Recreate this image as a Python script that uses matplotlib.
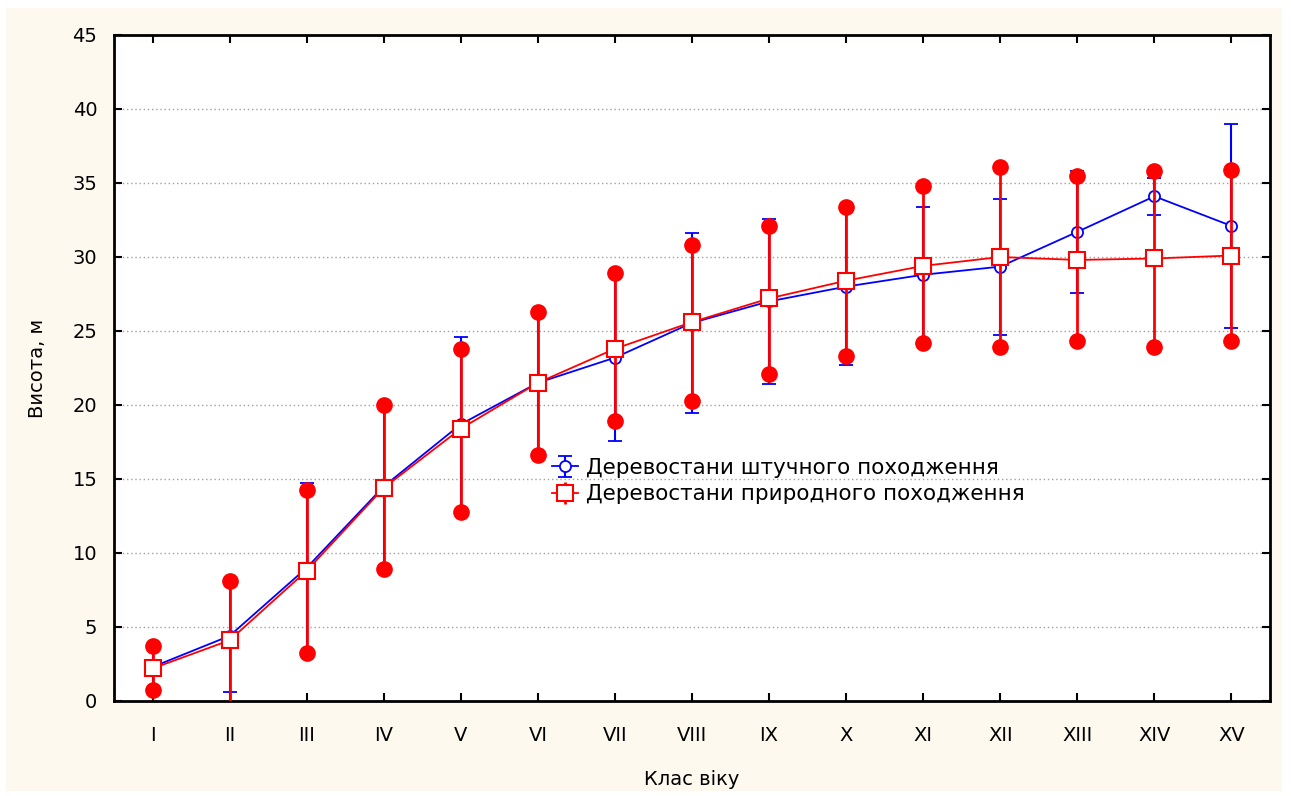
import matplotlib.pyplot as plt
import numpy as np
from matplotlib.patches import Rectangle

plt.rcParams['font.family'] = ['DejaVu Sans']

classes = ['I', 'II', 'III', 'IV', 'V', 'VI', 'VII', 'VIII', 'IX', 'X',
           'XI', 'XII', 'XIII', 'XIV', 'XV']

# штучного походження (mean, +/- error)
art_mean = [2.3, 4.4, 9.0, 14.5, 18.7, 21.5, 23.2, 25.55, 27.0, 28.0,
            28.8, 29.35, 31.7, 34.1, 32.1]
art_err = [1.4, 3.8, 5.75, 5.55, 5.9, 4.8, 5.6, 6.1, 5.55, 5.3,
           4.6, 4.6, 4.1, 1.25, 6.9]

# природного походження (mean, lower, upper)
nat_mean = [2.2, 4.1, 8.8, 14.4, 18.4, 21.5, 23.8, 25.6, 27.2, 28.4,
            29.4, 30.0, 29.8, 29.9, 30.1]
nat_low = [0.74, -0.7, 3.24, 8.9, 12.8, 16.6, 18.9, 20.3, 22.1, 23.3,
           24.2, 23.9, 24.3, 23.9, 24.3]
nat_up = [3.7, 8.1, 14.26, 20.0, 23.8, 26.3, 28.9, 30.8, 32.1, 33.4,
          34.8, 36.1, 35.5, 35.8, 35.9]

x = np.arange(1, len(classes) + 1)

fig = plt.figure(figsize=(12.91, 7.96), dpi=100, facecolor='white')
bg = Rectangle((6 / 1291, 5 / 796), 1276 / 1291, 783 / 796,
               transform=fig.transFigure, facecolor='#fdf9ee',
               edgecolor='none', zorder=-10)
fig.add_artist(bg)
ax = fig.add_axes([114 / 1291, 95 / 796, 1156 / 1291, 666 / 796])
ax.set_facecolor('white')

ax.errorbar(x, art_mean, yerr=art_err, color='blue', lw=1.3, marker='o',
            ms=8, mfc='white', mec='blue', mew=1.3, capsize=5, capthick=1.5,
            elinewidth=1.5, label='Деревостани штучного походження', zorder=3)

nm = np.array(nat_mean)
yerr_nat = [nm - np.array(nat_low), np.array(nat_up) - nm]
ax.errorbar(x, nat_mean, yerr=yerr_nat, color='red', lw=1.3, marker='s',
            ms=11, mfc='white', mec='red', mew=1.5, capsize=0,
            elinewidth=2, label='Деревостани природного походження', zorder=4)
ax.plot(x, nat_low, ls='', marker='o', ms=11, color='red', zorder=4)
ax.plot(x, nat_up, ls='', marker='o', ms=11, color='red', zorder=4)

ax.set_xlim(0.5, 15.5)
ax.set_ylim(0, 45)
ax.set_xticks(x)
ax.set_xticklabels(classes)
ax.set_yticks(np.arange(0, 46, 5))
ax.yaxis.grid(True, ls=(0, (1, 2)), color='#a0a0a0', lw=1)
ax.set_axisbelow(True)
ax.tick_params(direction='in', length=6, width=1.5, top=True, right=True,
               labelsize=14, pad=12)
ax.tick_params(axis='x', pad=18)
for s in ax.spines.values():
    s.set_linewidth(2)

ax.set_xlabel('Клас віку', fontsize=14, labelpad=18)
ax.set_ylabel('Висота, м', fontsize=14, labelpad=18)

ax.legend(loc='center left', bbox_to_anchor=(0.362, 0.33), frameon=False,
          fontsize=15.5, handlelength=1.2, handletextpad=0.4, labelspacing=0.3)

fig.savefig('out.png', dpi=100)
